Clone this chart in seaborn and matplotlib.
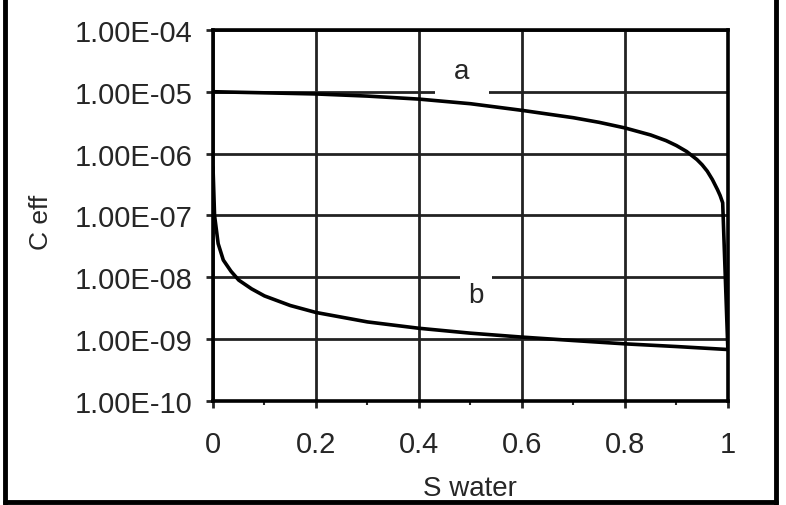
import numpy as np
import pandas as pd
import matplotlib
matplotlib.use("Agg")
import matplotlib.pyplot as plt
import seaborn as sns
from matplotlib.ticker import FuncFormatter, MultipleLocator, NullLocator, FixedLocator
from matplotlib.lines import Line2D

# -------------------------
# Data
# -------------------------
s_water_a = [0.0, 0.1, 0.2, 0.3, 0.4, 0.5, 0.6, 0.7, 0.75, 0.8, 0.85, 0.88, 0.9, 0.92, 0.94, 0.95,
             0.96, 0.97, 0.98, 0.985, 0.99, 1.0]
c_eff_a = [1.0e-5, 9.6e-6, 9.2e-6, 8.5e-6, 7.6e-6, 6.4e-6, 5.0e-6, 3.8e-6, 3.2e-6, 2.6e-6, 2.0e-6,
           1.62e-6, 1.35e-6, 1.08e-6, 8.0e-7, 6.6e-7, 5.2e-7, 3.8e-7, 2.6e-7, 2.1e-7, 1.6e-7, 7.0e-10]

s_water_b = [0.0, 0.003, 0.01, 0.02, 0.035, 0.05, 0.075, 0.1, 0.15, 0.2, 0.3, 0.4, 0.5, 0.6, 0.7, 0.8, 0.9, 1.0]
c_eff_b = [6.0e-7, 1.0e-7, 3.5e-8, 1.9e-8, 1.25e-8, 9.0e-9, 6.5e-9, 5.0e-9, 3.5e-9, 2.7e-9, 1.9e-9,
           1.5e-9, 1.25e-9, 1.08e-9, 9.5e-10, 8.4e-10, 7.6e-10, 6.8e-10]

y_ticks = [1e-10, 1e-9, 1e-8, 1e-7, 1e-6, 1e-5, 1e-4]
x_ticks = [0, 0.2, 0.4, 0.6, 0.8, 1]
x_tick_labels = ["0", "0.2", "0.4", "0.6", "0.8", "1"]

df = pd.concat([
    pd.DataFrame({"S": s_water_a, "C": c_eff_a, "curve": "a"}),
    pd.DataFrame({"S": s_water_b, "C": c_eff_b, "curve": "b"}),
])

# -------------------------
# Plot
# -------------------------
sns.set_style("white")
plt.rcParams["font.family"] = ["Liberation Sans", "DejaVu Sans"]

fig = plt.figure(figsize=(7.86, 5.06), dpi=100)
ax = fig.add_axes([0.271, 0.2055, 0.655, 0.7335])

sns.lineplot(data=df, x="S", y="C", hue="curve", palette={"a": "black", "b": "black"},
             estimator=None, sort=False, legend=False, linewidth=2.6, ax=ax, zorder=5)

ax.set_yscale("log")
ax.set_xlim(0, 1)
ax.set_ylim(1e-10, 1e-4)
ax.yaxis.set_major_locator(FixedLocator(y_ticks))
ax.yaxis.set_minor_locator(NullLocator())
ax.yaxis.set_major_formatter(FuncFormatter(lambda v, p: f"{v:.2E}"))
ax.set_xticks(x_ticks)
ax.set_xticklabels(x_tick_labels)
ax.xaxis.set_minor_locator(MultipleLocator(0.1))

ax.grid(True, which="major", color="#222222", linewidth=2.0)
ax.set_axisbelow(True)
for sp in ax.spines.values():
    sp.set_color("black")
    sp.set_linewidth(2.6)

ax.tick_params(axis="y", which="major", direction="out", length=5, width=2, pad=10, labelsize=21, left=True)
ax.tick_params(axis="x", which="major", direction="out", length=5, width=2, pad=16, labelsize=21, bottom=True)
ax.tick_params(axis="x", which="minor", direction="out", length=3, width=1.5, bottom=True)

ax.set_xlabel("S water", fontsize=20, labelpad=12)
ax.set_ylabel("C eff", fontsize=19)
ax.yaxis.set_label_coords(-0.31, 0.485)

# curve labels, white box breaks the gridline behind them
ax.text(0.483, 2.2e-5, "a", fontsize=20, ha="center", va="center", zorder=4,
        bbox=dict(boxstyle="square,pad=0.7", facecolor="white", edgecolor="none"))
ax.text(0.51, 5.1e-9, "b", fontsize=20, ha="center", va="center", zorder=4,
        bbox=dict(boxstyle="square,pad=0.3", facecolor="white", edgecolor="none"))

# outer frame of the scanned figure (no top edge)
for xs, ys in [([0.006, 0.006], [0, 1]), ([0.987, 0.987], [0, 1]), ([0.006, 0.987], [0.005, 0.005])]:
    fig.add_artist(Line2D(xs, ys, color="black", linewidth=3.5, transform=fig.transFigure))

fig.savefig("out.png", dpi=100)
